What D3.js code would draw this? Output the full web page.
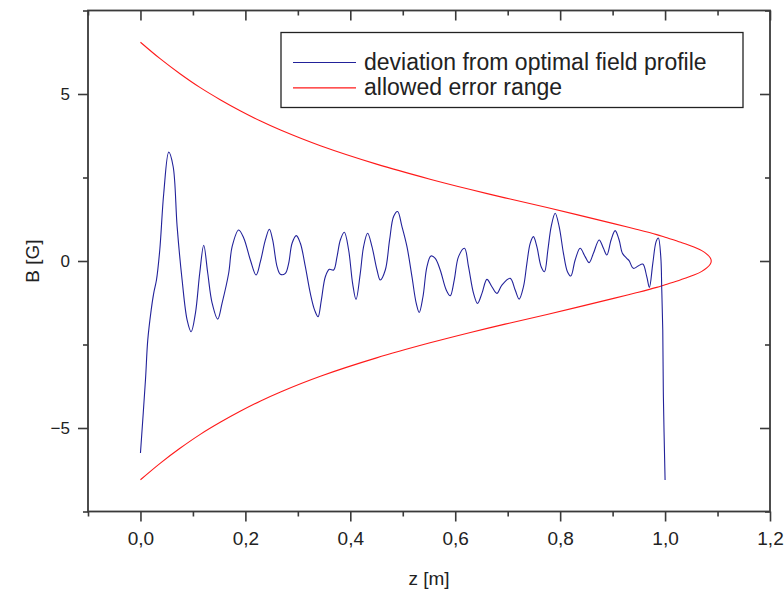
<!DOCTYPE html>
<html>
<head>
<meta charset="utf-8">
<script src="https://cdn.jsdelivr.net/npm/d3@7"></script>
<style>
    body { margin: 0; background: #fff; }
    text { font-family: "Liberation Sans", Arial, sans-serif; }
</style>
</head>
<body>
<svg id="chart"></svg>
<script>
// deviation curve (z in m, B in G)
var zValues = [0, 0.0095, 0.0139, 0.0204, 0.0253, 0.0305, 0.0368, 0.0444, 0.0539, 0.0623,
    0.0699, 0.0794, 0.0890, 0.0966, 0.1048, 0.1130, 0.1206, 0.1282, 0.1366, 0.1472,
    0.1556, 0.1682, 0.1747, 0.1872, 0.1968, 0.2095, 0.2204, 0.2286, 0.2381, 0.2457,
    0.2520, 0.2604, 0.2667, 0.2762, 0.2825, 0.2890, 0.2971, 0.3048, 0.3143, 0.3238,
    0.3320, 0.3385, 0.3448, 0.3524, 0.3600, 0.3682, 0.3747, 0.3810, 0.3886, 0.3968,
    0.4044, 0.4109, 0.4190, 0.4253, 0.4330, 0.4413, 0.4509, 0.4571, 0.4667, 0.4749,
    0.4825, 0.4901, 0.4985, 0.5080, 0.5175, 0.5257, 0.5314, 0.5385, 0.5461, 0.5537,
    0.5619, 0.5714, 0.5829, 0.5905, 0.5981, 0.6063, 0.6177, 0.6253, 0.6349, 0.6425,
    0.6509, 0.6604, 0.6699, 0.6794, 0.6890, 0.7048, 0.7143, 0.7219, 0.7301, 0.7366,
    0.7429, 0.7491, 0.7556, 0.7638, 0.7701, 0.7766, 0.7829, 0.7905, 0.7981, 0.8063,
    0.8139, 0.8204, 0.8286, 0.8381, 0.8476, 0.8552, 0.8634, 0.8743, 0.8825, 0.8890,
    0.8971, 0.9048, 0.9124, 0.9187, 0.9270, 0.9314, 0.9396, 0.9486, 0.9575, 0.9651,
    0.9701, 0.9766, 0.9829, 0.9872, 0.9918, 0.9937, 0.9956, 0.9968, 1.0];
var bValues = [-5.75, -3.57, -2.37, -1.47, -0.96, -0.57, 0.33, 2.03, 3.26, 2.83,
    1.03, -0.57, -1.77, -2.12, -1.56, -0.36, 0.47, -0.36, -1.26, -1.74,
    -1.26, -0.36, 0.43, 0.93, 0.69, 0.03, -0.42, -0.02, 0.63, 0.95,
    0.63, -0.17, -0.40, -0.37, -0.07, 0.53, 0.76, 0.53, -0.17, -0.97,
    -1.47, -1.67, -1.17, -0.47, -0.25, -0.27, 0.13, 0.63, 0.86, 0.33,
    -0.67, -1.15, -0.37, 0.43, 0.83, 0.43, -0.27, -0.57, -0.27, 0.63,
    1.33, 1.48, 1.03, 0.43, -0.47, -1.27, -1.54, -1.07, -0.17, 0.15,
    0.08, -0.27, -0.87, -1.04, -0.57, 0.13, 0.38, -0.17, -0.97, -1.27,
    -0.97, -0.55, -0.77, -0.97, -0.72, -0.52, -0.87, -1.14, -0.77, -0.07,
    0.53, 0.73, 0.43, -0.17, -0.32, 0.33, 1.03, 1.43, 1.03, 0.23,
    -0.32, -0.45, 0.03, 0.38, 0.13, -0.05, 0.23, 0.63, 0.38, 0.18,
    0.63, 0.91, 0.63, 0.23, 0.08, 0.01, -0.22, -0.15, -0.09, -0.47,
    -0.79, -0.07, 0.58, 0.69, 0.13, -0.87, -2.07, -4.07, -6.56];

// upper half of the allowed error range (the lower half is its mirror)
var envZ = [0, 0.038, 0.076, 0.114, 0.152, 0.19, 0.229, 0.267, 0.343, 0.45, 0.552,
    0.629, 0.695, 0.775, 0.902, 0.943, 0.984, 1.0, 1.03, 1.055, 1.07, 1.08, 1.086, 1.088];
var envB = [6.55, 6.05, 5.60, 5.19, 4.83, 4.50, 4.19, 3.92, 3.45, 2.90, 2.45,
    2.14, 1.89, 1.60, 1.12, 0.96, 0.79, 0.71, 0.56, 0.42, 0.31, 0.2, 0.1, 0];

var xMajorTicks = [0, 0.2, 0.4, 0.6, 0.8, 1.0, 1.2];
var xMinorTicks = [-0.1, 0.1, 0.3, 0.5, 0.7, 0.9, 1.1];
var yMajorTicks = [-5, 0, 5];
var yMinorTicks = [-7.5, -2.5, 2.5, 7.5];
var seriesNames = ["deviation from optimal field profile", "allowed error range"];
var seriesColors = ["#22229a", "#ff1a1a"];

var svgW = 784, svgH = 592;
var plot = { left: 88, top: 10.5, right: 770, bottom: 511.5 };
var axisColor = "#3a3a3a";

var svg = d3.select("#chart").attr("width", svgW).attr("height", svgH);

var xScale = d3.scaleLinear().domain([-0.1, 1.2]).range([plot.left, plot.right]);
var yScale = d3.scaleLinear().domain([-7.5, 7.5]).range([plot.bottom, plot.top]);

var commaFormat = function (value) {
    return d3.format(".1f")(value).replace(".", ",");
};

var styleAxis = function (g, fontSize) {
    g.select(".domain").remove();
    g.selectAll("line").attr("stroke", axisColor).attr("stroke-width", 1.6);
    g.selectAll("text")
        .attr("fill", "#222")
        .attr("font-size", fontSize)
        .attr("font-family", "Liberation Sans, Arial, sans-serif");
};

// bottom axis: outward ticks
svg.append("g")
    .attr("transform", `translate(0,${plot.bottom})`)
    .call(d3.axisBottom(xScale).tickValues(xMajorTicks).tickSize(10).tickPadding(10).tickFormat(commaFormat))
    .call(styleAxis, 19);
svg.append("g")
    .attr("transform", `translate(0,${plot.bottom})`)
    .call(d3.axisBottom(xScale).tickValues(xMinorTicks).tickSize(5).tickFormat(""))
    .call(styleAxis, 19);

// top axis: inward ticks, no labels
svg.append("g")
    .attr("transform", `translate(0,${plot.top})`)
    .call(d3.axisBottom(xScale).tickValues(xMajorTicks).tickSize(10).tickFormat(""))
    .call(styleAxis, 19);
svg.append("g")
    .attr("transform", `translate(0,${plot.top})`)
    .call(d3.axisBottom(xScale).tickValues(xMinorTicks).tickSize(5).tickFormat(""))
    .call(styleAxis, 19);

// left axis: outward ticks
svg.append("g")
    .attr("transform", `translate(${plot.left},0)`)
    .call(d3.axisLeft(yScale).tickValues(yMajorTicks).tickSize(10).tickPadding(8).tickFormat(d3.format("d")))
    .call(styleAxis, 17);
svg.append("g")
    .attr("transform", `translate(${plot.left},0)`)
    .call(d3.axisLeft(yScale).tickValues(yMinorTicks).tickSize(5).tickFormat(""))
    .call(styleAxis, 17);

// right axis: inward ticks
svg.append("g")
    .attr("transform", `translate(${plot.right},0)`)
    .call(d3.axisRight(yScale).tickValues(yMajorTicks).tickSize(-10).tickFormat(""))
    .call(styleAxis, 17);
svg.append("g")
    .attr("transform", `translate(${plot.right},0)`)
    .call(d3.axisRight(yScale).tickValues(yMinorTicks).tickSize(-5).tickFormat(""))
    .call(styleAxis, 17);

svg.append("rect")
    .attr("x", plot.left)
    .attr("y", plot.top)
    .attr("width", plot.right - plot.left)
    .attr("height", plot.bottom - plot.top)
    .attr("fill", "none")
    .attr("stroke", axisColor)
    .attr("stroke-width", 1.8);

// curves
var line = d3.line()
    .x(function (d) { return xScale(d[0]); })
    .y(function (d) { return yScale(d[1]); })
    .curve(d3.curveCatmullRom.alpha(0.5));

var envPoints = envZ.map(function (z, i) { return [z, envB[i]]; });
var envLower = envZ.slice(0, -1).map(function (z, i) { return [z, -envB[i]]; }).reverse();
svg.append("path")
    .datum(envPoints.concat(envLower))
    .attr("d", line)
    .attr("fill", "none")
    .attr("stroke", seriesColors[1])
    .attr("stroke-width", 1.1);

svg.append("path")
    .datum(zValues.map(function (z, i) { return [z, bValues[i]]; }))
    .attr("d", line)
    .attr("fill", "none")
    .attr("stroke", seriesColors[0])
    .attr("stroke-width", 1.1);

// axis titles
svg.append("text")
    .attr("x", (plot.left + plot.right) / 2)
    .attr("y", 585)
    .attr("text-anchor", "middle")
    .attr("font-size", 19)
    .attr("fill", "#222")
    .text("z [m]");

svg.append("text")
    .attr("transform", `translate(39,${yScale(0)}) rotate(-90)`)
    .attr("text-anchor", "middle")
    .attr("font-size", 19)
    .attr("fill", "#222")
    .text("B [G]");

// legend
var legendG = svg.append("g").attr("transform", "translate(281,32.5)");
legendG.append("rect")
    .attr("width", 462)
    .attr("height", 75)
    .attr("fill", "#fff")
    .attr("stroke", "#222")
    .attr("stroke-width", 1.3);
seriesNames.forEach(function (name, i) {
    var rowY = 30 + i * 25.4;
    legendG.append("line")
        .attr("x1", 12).attr("x2", 75)
        .attr("y1", rowY).attr("y2", rowY)
        .attr("stroke", seriesColors[i])
        .attr("stroke-width", 1.1);
    legendG.append("text")
        .attr("x", 83)
        .attr("y", rowY + 7.5)
        .attr("font-size", 23)
        .attr("fill", "#222")
        .text(name);
});
</script>
</body>
</html>
